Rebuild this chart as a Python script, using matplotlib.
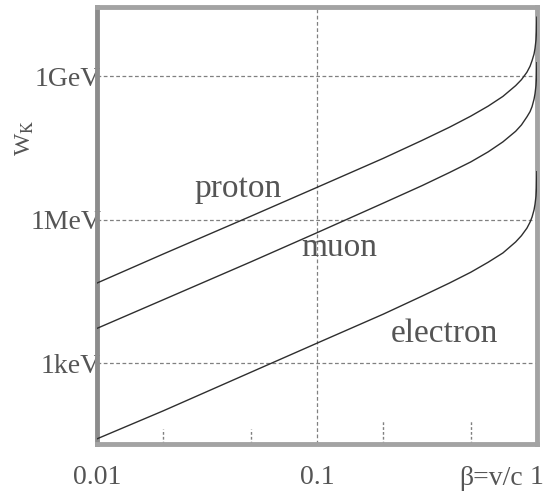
import matplotlib
matplotlib.use("Agg")
import matplotlib.pyplot as plt

plt.rcParams['font.family'] = ['Liberation Serif', 'DejaVu Serif']
plt.rcParams['mathtext.fontset'] = 'stix'

# velocity beta = v/c
beta = [0.01, 0.02, 0.05, 0.1, 0.2, 0.3, 0.4, 0.5, 0.6, 0.7,
        0.8, 0.85, 0.9, 0.93, 0.95, 0.97, 0.98, 0.99, 0.995, 0.9986]

# kinetic energy W_K in eV
w_proton = [4.7e4, 1.9e5, 1.17e6, 4.7e6, 1.9e7, 4.5e7, 8.5e7, 1.45e8, 2.35e8, 3.75e8,
            6.3e8, 8.4e8, 1.2e9, 1.6e9, 2.1e9, 2.9e9, 3.8e9, 5.7e9, 8.5e9, 1.7e10]
w_muon = [5.3e3, 2.1e4, 1.3e5, 5.3e5, 2.2e6, 5.1e6, 9.6e6, 1.6e7, 2.6e7, 4.2e7,
          7.0e7, 9.5e7, 1.4e8, 1.8e8, 2.3e8, 3.3e8, 4.3e8, 6.4e8, 9.5e8, 1.9e9]
w_electron = [26, 100, 640, 2.6e3, 1.05e4, 2.5e4, 4.7e4, 7.9e4, 1.28e5, 2.0e5,
              3.4e5, 4.6e5, 6.6e5, 8.8e5, 1.13e6, 1.6e6, 2.1e6, 3.1e6, 4.6e6, 1.0e7]

y_ticks = [1e3, 1e6, 1e9]
y_tick_labels = ['1keV', '1MeV', '1GeV']
x_ticks = [0.01, 0.1, 1]
x_tick_labels = ['0.01', '0.1', '1']
short_marks = [0.02, 0.05]
long_marks = [0.2, 0.5]

text_color = '#555555'
line_color = '#2e2e2e'
grid_color = '#808080'

fig = plt.figure(figsize=(5.43, 4.94), dpi=100)
ax = fig.add_axes([0.1786, 0.1012, 0.8103, 0.8846])
ax.set_xscale('log')
ax.set_yscale('log')
ax.set_xlim(0.01, 1)
ax.set_ylim(10 ** 1.307, 10 ** 10.443)

# dashed reference lines
for yv in y_ticks:
    ax.axhline(yv, color=grid_color, lw=0.9, ls=(0, (3, 2)), zorder=1)
ax.axvline(0.1, color=grid_color, lw=0.9, ls=(0, (3, 2)), zorder=1)

# short marks rising from the bottom axis
for xv in short_marks:
    ax.axvline(xv, ymin=0, ymax=0.035, color=grid_color, lw=1.0, ls=(0, (2, 1.5)))
for xv in long_marks:
    ax.axvline(xv, ymin=0, ymax=0.055, color=grid_color, lw=1.0, ls=(0, (2, 1.5)))

ax.plot(beta, w_proton, color=line_color, lw=1.0, zorder=3)
ax.plot(beta, w_muon, color=line_color, lw=1.0, zorder=3)
ax.plot(beta, w_electron, color=line_color, lw=1.0, zorder=3)

ax.text(0.044, 10 ** 6.47, 'proton', fontsize=24, color=text_color,
        ha='center', va='baseline', zorder=4)
ax.text(0.126, 10 ** 5.24, 'muon', fontsize=24, color=text_color,
        ha='center', va='baseline', zorder=4)
ax.text(0.38, 10 ** 3.44, 'electron', fontsize=24, color=text_color,
        ha='center', va='baseline', zorder=4)

for side in ['left', 'right', 'top', 'bottom']:
    ax.spines[side].set_color('#a3a3a3')
    ax.spines[side].set_linewidth(3.5)
ax.spines['left'].set_color('#8c8c8c')

ax.set_yticks(y_ticks)
ax.set_yticklabels(y_tick_labels)
ax.yaxis.set_minor_locator(matplotlib.ticker.NullLocator())
ax.tick_params(axis='y', length=0, pad=-3, labelsize=20, labelcolor=text_color)

ax.set_xticks(x_ticks)
ax.set_xticklabels(x_tick_labels)
ax.xaxis.set_minor_locator(matplotlib.ticker.NullLocator())
ax.tick_params(axis='x', length=0, pad=15, labelsize=20, labelcolor=text_color)

ax.text(0.968, -0.094, r'β=v/c', transform=ax.transAxes, fontsize=20,
        color=text_color, ha='right', va='baseline')

fig.text(0.046, 0.722, r'W$_{\rm K}$', rotation=90, fontsize=17,
         color=text_color, ha='center', va='center')

fig.savefig('out.png', dpi=100, facecolor='white')
